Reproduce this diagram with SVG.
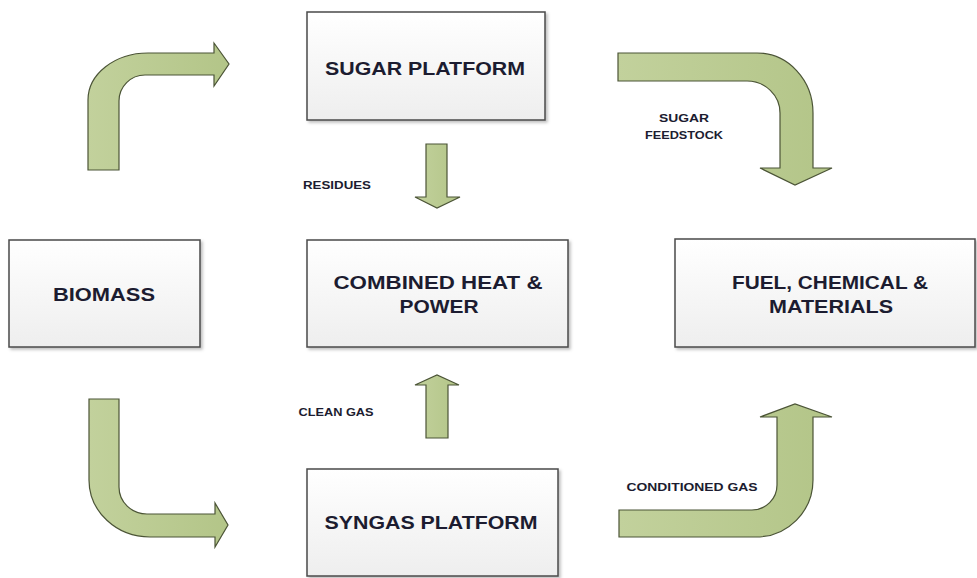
<svg xmlns="http://www.w3.org/2000/svg" width="977" height="578" viewBox="0 0 977 578">
<style>
.box{fill:url(#boxg);stroke:#4a4a4a;stroke-width:1.5;filter:url(#sh)}
.arr{fill:url(#arrg);stroke:#4b5436;stroke-width:1.2;stroke-linejoin:miter}
.t{font-family:"Liberation Sans",Arial,sans-serif;font-weight:700;fill:#1c1c30;text-anchor:middle}
.big{font-size:19px}
.sm{font-size:11px}
</style>
<defs>
<linearGradient id="boxg" x1="0" y1="0" x2="0" y2="1">
<stop offset="0" stop-color="#ffffff"/>
<stop offset="1" stop-color="#eeeeee"/>
</linearGradient>
<linearGradient id="arrg" x1="0" y1="0" x2="1" y2="0">
<stop offset="0" stop-color="#c2d19c"/>
<stop offset="1" stop-color="#b3c588"/>
</linearGradient>
<filter id="sh" x="-5%" y="-5%" width="110%" height="115%">
<feDropShadow dx="2" dy="2" stdDeviation="1.5" flood-color="#000" flood-opacity="0.25"/>
</filter>
</defs>
<rect width="977" height="578" fill="#ffffff"/>

<g id="connectors">
<path id="arrow-biomass-sugar" class="arr" d="M88,170 L88,100 A60,47 0 0 1 148,53 L214,53 L214,43 L229,64 L214,86 L214,75 L145,75 A26,26 0 0 0 119,101 L119,170 Z"/>
<path id="arrow-sugar-fuel" class="arr" d="M618,53 L757,53 A56,60 0 0 1 813,113 L813,168 L832,168 L795,185 L760,168 L780,168 L780,113 A33,32 0 0 0 747,81 L618,81 Z"/>
<path id="arrow-biomass-syngas" class="arr" d="M89,399 L119,399 L119,487 A28,27 0 0 0 147,514 L215,514 L215,503 L228,525 L215,547 L215,537 L150,537 A61,57 0 0 1 89,480 Z"/>
<path id="arrow-syngas-fuel" class="arr" d="M619,510 L752,510 A25,25 0 0 0 777,485 L777,417 L760,417 L795,404 L832,417 L813,417 L813,480 A57,57 0 0 1 756,537 L619,537 Z"/>
<path id="arrow-residues" class="arr" d="M426,144 L447,144 L447,197 L460,197 L437,208 L415,197 L426,197 Z"/>
<path id="arrow-cleangas" class="arr" d="M426,438 L448,438 L448,385 L459,385 L437,375 L415,385 L426,385 Z"/>
<text class="t sm" x="337" y="189" textLength="68" lengthAdjust="spacingAndGlyphs">RESIDUES</text>
<text class="t sm" x="336" y="416" textLength="75" lengthAdjust="spacingAndGlyphs">CLEAN GAS</text>
<text class="t sm" x="684" y="122" textLength="50" lengthAdjust="spacingAndGlyphs">SUGAR</text>
<text class="t sm" x="684" y="139" textLength="78" lengthAdjust="spacingAndGlyphs">FEEDSTOCK</text>
<text class="t sm" x="692" y="491" textLength="131" lengthAdjust="spacingAndGlyphs">CONDITIONED GAS</text>
</g>

<g id="sugar-platform">
<rect class="box" x="307" y="12" width="238" height="108"/>
<text class="t big" x="425" y="75" textLength="200" lengthAdjust="spacingAndGlyphs">SUGAR PLATFORM</text>
</g>

<g id="biomass">
<rect class="box" x="9" y="240" width="191" height="107"/>
<text class="t big" x="104" y="301" textLength="102" lengthAdjust="spacingAndGlyphs">BIOMASS</text>
</g>

<g id="chp">
<rect class="box" x="307" y="240" width="261" height="107"/>
<text class="t big" x="438" y="289" textLength="209" lengthAdjust="spacingAndGlyphs">COMBINED HEAT &amp;</text>
<text class="t big" x="439" y="313" textLength="79" lengthAdjust="spacingAndGlyphs">POWER</text>
</g>

<g id="fuel">
<rect class="box" x="675" y="239" width="300" height="108"/>
<text class="t big" x="830" y="289" textLength="196" lengthAdjust="spacingAndGlyphs">FUEL, CHEMICAL &amp;</text>
<text class="t big" x="831" y="313" textLength="124" lengthAdjust="spacingAndGlyphs">MATERIALS</text>
</g>

<g id="syngas-platform">
<rect class="box" x="307" y="469" width="251" height="107"/>
<text class="t big" x="431" y="529" textLength="213" lengthAdjust="spacingAndGlyphs">SYNGAS PLATFORM</text>
</g>
</svg>
